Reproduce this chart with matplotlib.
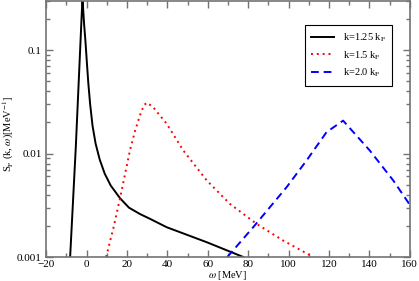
import numpy as np
import matplotlib
matplotlib.use("Agg")
import matplotlib.pyplot as plt
from matplotlib.ticker import FixedLocator, FuncFormatter, MultipleLocator, LogLocator

plt.rcParams["font.family"] = ["Liberation Serif", "DejaVu Serif"]
plt.rcParams["mathtext.fontset"] = "stix"

# ==================================
# DATA
# ==================================

w_k125 = [-8.1, -5.3, -2.0, -1.2, -0.5, 0.2, 0.9, 1.8, 3.0, 4.5, 6.5, 9.0, 12.0,
          16.6, 21.0, 26.5, 31.4, 39.7, 59.5, 77.6]
s_k125 = [0.001, 0.0115, 0.32, 0.18, 0.12, 0.075, 0.048, 0.03, 0.0185, 0.0125,
          0.0088, 0.0064, 0.0049, 0.0037, 0.0030, 0.0026, 0.00234, 0.00194,
          0.00139, 0.001]

w_k15 = [9.7, 13.3, 16.6, 21.5, 24.0, 26.5, 28.5, 30.0, 33.0, 39.7, 47.9, 59.5,
         71.0, 84.2, 97.4, 112.2]
s_k15 = [0.001, 0.0019, 0.0037, 0.0107, 0.0165, 0.0235, 0.0295, 0.031, 0.028,
         0.0194, 0.0107, 0.0055, 0.00326, 0.00209, 0.00144, 0.001]

w_k20 = [69.7, 82.5, 99.0, 108.9, 118.8, 127.0, 140.2, 151.8, 160.0]
s_k20 = [0.001, 0.00194, 0.00472, 0.00856, 0.0161, 0.0208, 0.0107, 0.0055, 0.0032]

labels = [r"k=1.25 k$_\mathrm{F}$", r"k=1.5 k$_\mathrm{F}$", r"k=2.0 k$_\mathrm{F}$"]

# ==================================
# PLOT
# ==================================

fig = plt.figure(figsize=(4.19, 2.81), dpi=100)
ax = fig.add_axes([0.11, 0.0854, 0.868, 0.912])

ax.plot(w_k125, s_k125, color="black", lw=1.4, label=labels[0])
ax.plot(w_k15, s_k15, color="red", lw=1.4, ls=(0, (1, 2)), label=labels[1])
ax.plot(w_k20, s_k20, color="blue", lw=1.4, ls=(0, (4, 2.5)), label=labels[2])

ax.set_yscale("log")
ax.set_xlim(-20, 160)
ax.set_ylim(0.001, 0.3)

ax.xaxis.set_major_locator(MultipleLocator(20))
ax.xaxis.set_minor_locator(MultipleLocator(10))
ax.yaxis.set_major_locator(FixedLocator([0.001, 0.01, 0.1]))
ax.yaxis.set_minor_locator(LogLocator(base=10, subs=np.arange(2, 10)))
ax.yaxis.set_major_formatter(FuncFormatter(lambda v, p: "%g" % v))
ax.yaxis.set_minor_formatter(FuncFormatter(lambda v, p: ""))

for sp in ax.spines.values():
    sp.set_color("0.45")
    sp.set_linewidth(1.2)

ax.tick_params(which="both", direction="in", top=True, right=True,
               colors="0.45", labelcolor="black", labelsize=8)
ax.tick_params(which="major", length=5, width=1)
ax.tick_params(axis="x", which="major", pad=2.5)
ax.tick_params(axis="y", which="major", pad=3)
ax.tick_params(which="minor", length=3, width=1)

ax.set_xlabel(r"$\omega$ [MeV]", fontsize=7.5, labelpad=-0.3)
ax.set_ylabel(r"S$_\mathrm{P}$ (k, $\omega$)[MeV$^{-1}$]", fontsize=7.5)
ax.yaxis.set_label_coords(-0.082, 0.48)

leg = ax.legend(loc="upper left", bbox_to_anchor=(0.698, 0.925), fontsize=7.5,
                fancybox=False, framealpha=1, edgecolor="black",
                handlelength=2.2, borderpad=0.6, labelspacing=0.5)
leg.get_frame().set_linewidth(0.8)

fig.savefig("out.png", dpi=100)
